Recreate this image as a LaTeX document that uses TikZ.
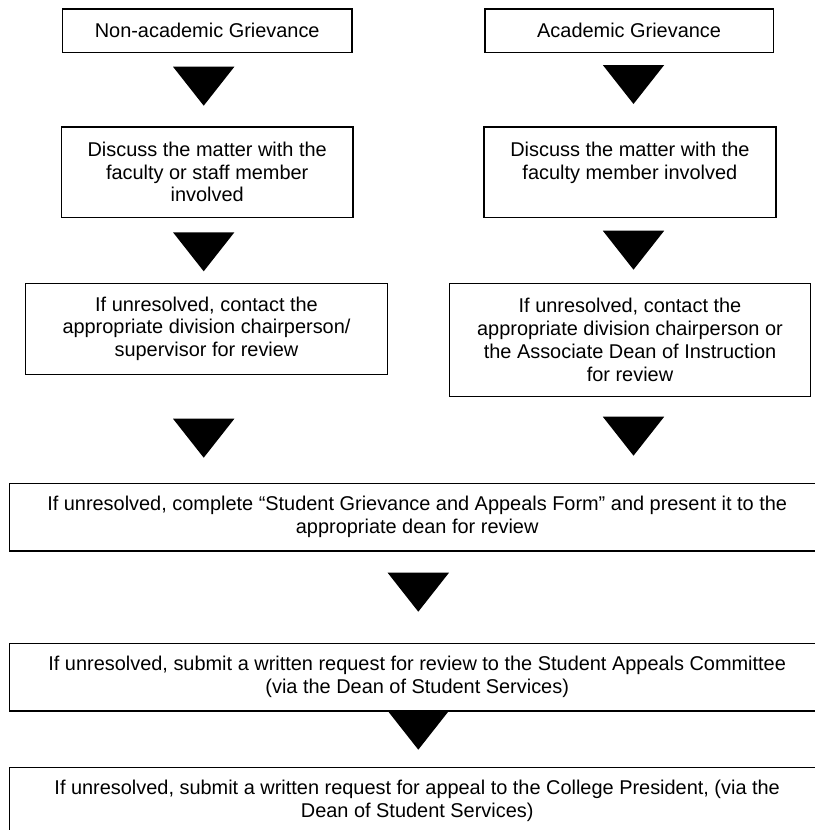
\documentclass[tikz,border=0pt]{standalone}
\usepackage{fontspec}
\setmainfont{Liberation Sans}
\begin{document}
\begin{tikzpicture}[x=1bp,y=-1bp,
  box/.style={draw=black,line width=1.6bp,inner sep=0pt,align=center,
    font=\fontsize{20}{22.8}\selectfont},
  downtri/.pic={\fill[black] (-30.7,0) -- (30.7,0) -- (0,39) -- cycle;}]
\useasboundingbox (0,0) rectangle (815,830);
\clip (0,0) rectangle (815,830);
% top row
\node[box,minimum width=289bp,minimum height=43bp] (b1l) at (207.2,30.8) {Non-academic Grievance};
\node[box,minimum width=288.8bp,minimum height=43bp] (b1r) at (629.1,30.8) {Academic Grievance};
% second row
\node[box,minimum width=291bp,minimum height=90.6bp] (b2l) at (207.2,172) {Discuss the matter with the\\faculty or staff member\\involved};
\node[box,minimum width=292.3bp,minimum height=90.6bp] (b2r) at (629.9,172) {Discuss the matter with the\\faculty member involved\\\mbox{}};
% third row
\node[box,minimum width=361.6bp,minimum height=91bp] (b3l) at (206.5,328.8) {If unresolved, contact the\\appropriate division chairperson/\\supervisor for review};
\node[box,minimum width=361bp,minimum height=113.2bp] (b3r) at (630,339.9) {If unresolved, contact the\\appropriate division chairperson or\\the Associate Dean of Instruction\\for review};
% wide boxes
\node[box,minimum width=815.7bp,minimum height=67.4bp] (w1) at (417.2,517) {If unresolved, complete \char"201C Student Grievance and Appeals Form\char"201D\ and present it to the\\appropriate dean for review};
\node[box,minimum width=815.7bp,minimum height=67.4bp] (w2) at (417.2,677) {If unresolved, submit a written request for review to the Student Appeals Committee\\(via the Dean of Student Services)};
\node[box,minimum width=815.7bp,minimum height=67.4bp] (w3) at (417.2,801) {If unresolved, submit a written request for appeal to the College President, (via the\\Dean of Student Services)};
% triangles
\pic (t1l) at (203.7,66.7) {downtri};
\pic (t1r) at (633.5,65) {downtri};
\pic (t2l) at (203.7,232.3) {downtri};
\pic (t2r) at (633.5,230.7) {downtri};
\pic (t3l) at (203.7,418.7) {downtri};
\pic (t3r) at (633.5,416.7) {downtri};
\pic (t4) at (418.3,572.7) {downtri};
\pic (t5) at (418.3,710.7) {downtri};
\end{tikzpicture}
\end{document}
